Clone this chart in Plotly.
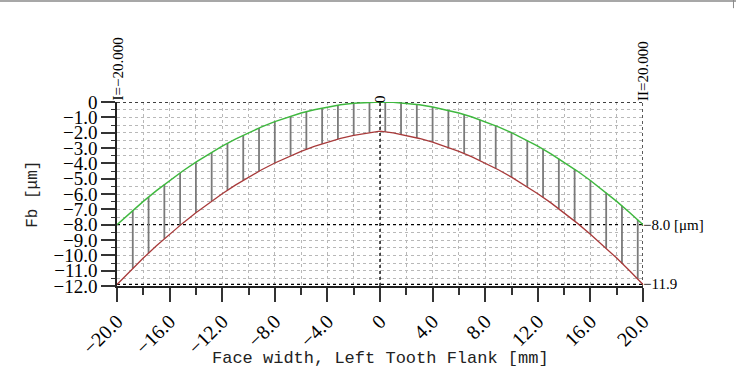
import plotly.graph_objects as go

# ---- data ----
x_mm = list(range(-20, 21))
green_um = [-8.00, -7.22, -6.48, -5.78, -5.12, -4.50, -3.92, -3.38, -2.88, -2.42,
            -2.00, -1.62, -1.28, -0.98, -0.72, -0.50, -0.32, -0.18, -0.08, -0.02,
            0.00,
            -0.02, -0.08, -0.18, -0.32, -0.50, -0.72, -0.98, -1.28, -1.62, -2.00,
            -2.42, -2.88, -3.38, -3.92, -4.50, -5.12, -5.78, -6.48, -7.22, -8.00]
red_um = [-11.90, -11.02, -10.18, -9.38, -8.62, -7.90, -7.22, -6.58, -5.98, -5.42,
          -4.90, -4.42, -3.98, -3.58, -3.22, -2.90, -2.62, -2.38, -2.18, -2.02,
          -1.90,
          -2.02, -2.18, -2.38, -2.62, -2.90, -3.22, -3.58, -3.98, -4.42, -4.90,
          -5.42, -5.98, -6.58, -7.22, -7.90, -8.62, -9.38, -10.18, -11.02, -11.90]

hatch_x = [-18.8, -17.6, -16.4, -15.2, -14.0, -12.8, -11.6, -10.4, -9.2, -8.0, -6.8,
           -5.6, -4.4, -3.2, -2.0, -0.8, 0.4, 1.6, 2.8, 4.0, 5.2, 6.4, 7.6, 8.8,
           10.0, 11.2, 12.4, 13.6, 14.8, 16.0, 17.2, 18.4, 19.6]
hatch_top = [-7.07, -6.20, -5.38, -4.62, -3.92, -3.28, -2.69, -2.16, -1.69, -1.28, -0.92,
             -0.63, -0.39, -0.20, -0.08, -0.01, 0.00, -0.05, -0.16, -0.32, -0.54, -0.82,
             -1.16, -1.55, -2.00, -2.51, -3.08, -3.70, -4.38, -5.12, -5.92, -6.77, -7.68]
hatch_bot = [-10.85, -9.86, -8.92, -8.04, -7.22, -6.46, -5.75, -5.10, -4.51, -3.98, -3.50,
             -3.09, -2.73, -2.42, -2.18, -1.99, -1.94, -2.11, -2.34, -2.62, -2.96, -3.36,
             -3.82, -4.33, -4.90, -5.53, -6.22, -6.96, -7.76, -8.62, -9.54, -10.51, -11.54]

x_tickvals = [-20, -16, -12, -8, -4, 0, 4, 8, 12, 16, 20]
x_ticktext = ["\u221220.0", "\u221216.0", "\u221212.0", "\u22128.0", "\u22124.0", "0",
              "4.0", "8.0", "12.0", "16.0", "20.0"]
y_tickvals = [0, -1, -2, -3, -4, -5, -6, -7, -8, -9, -10, -11, -12]
y_ticktext = ["0"] + ["\u2212%d.0" % k for k in range(1, 13)]

MONO = "Liberation Mono"
SERIF = "Liberation Serif"

hx, hy = [], []
for xv, t, b in zip(hatch_x, hatch_top, hatch_bot):
    hx += [xv, xv, None]
    hy += [t, b, None]

fig = go.Figure()
fig.add_trace(go.Scatter(x=hx, y=hy, mode="lines",
                         line=dict(color="#7a7a7a", width=1.8), hoverinfo="skip"))
fig.add_trace(go.Scatter(x=x_mm, y=red_um, mode="lines",
                         line=dict(color="#a83a3a", width=1.3)))
fig.add_trace(go.Scatter(x=x_mm, y=green_um, mode="lines",
                         line=dict(color="#3fb83f", width=1.5)))

grid = dict(showgrid=True, gridcolor="#b8b8b8", gridwidth=1, griddash="dot")

fig.update_layout(
    width=736, height=374,
    margin=dict(l=117, r=93, t=102, b=88),
    paper_bgcolor="white", plot_bgcolor="white",
    showlegend=False,
    xaxis=dict(range=[-20, 20], tickvals=x_tickvals, ticktext=x_ticktext,
               tickangle=-45, ticks="outside", ticklen=14, tickwidth=1.5,
               tickcolor="#333", showline=True, linecolor="#222", linewidth=1.5,
               zeroline=False, tickfont=dict(family=SERIF, size=20, color="black"),
               minor=dict(tick0=0, dtick=2, ticks="outside", ticklen=7, tickwidth=1.5,
                          tickcolor="#333", **grid),
               **grid),
    yaxis=dict(range=[-12, 0], tickvals=y_tickvals, ticktext=y_ticktext,
               ticks="outside", ticklen=14, tickwidth=1.5, tickcolor="#333",
               showline=True, linecolor="#222", linewidth=1.5, zeroline=False,
               tickfont=dict(family=SERIF, size=19, color="black"),
               minor=dict(tick0=0, dtick=0.5, ticks="outside", ticklen=4, tickwidth=1.2,
                          tickcolor="#333", **grid),
               **grid),
)

dot = dict(color="black", width=1.3, dash="dot")
fig.add_shape(type="line", xref="x", yref="y", x0=-20, x1=20, y0=0, y1=0, line=dot, layer="between")
fig.add_shape(type="line", xref="x", yref="y", x0=20, x1=20, y0=-12, y1=0, line=dot, layer="between")
fig.add_shape(type="line", xref="x", yref="y", x0=0, x1=0, y0=-12, y1=0, line=dot, layer="between")
fig.add_shape(type="line", xref="x", yref="y", x0=-20, x1=20, y0=-8, y1=-8, line=dot, layer="between")
fig.add_shape(type="line", xref="x", yref="y", x0=-20, x1=20, y0=-11.9, y1=-11.9, line=dot, layer="between")
# window border fragments
fig.add_shape(type="line", xref="paper", yref="paper", x0=-0.2233, x1=1.1776, y0=1.549, y1=1.549,
              line=dict(color="#8a8a8a", width=1.5), layer="above")
fig.add_shape(type="line", xref="paper", yref="paper", x0=1.172, x1=1.172, y0=1.51, y1=1.555,
              line=dict(color="#8a8a8a", width=1), layer="above")

ann_font = dict(family=SERIF, size=15, color="black")
fig.add_annotation(x=-20, y=1, xref="x", yref="paper", text="I=\u221220.000", textangle=-90,
                   showarrow=False, xanchor="center", yanchor="bottom", font=ann_font, yshift=-1)
fig.add_annotation(x=20, y=1, xref="x", yref="paper", text="II=20.000", textangle=-90,
                   showarrow=False, xanchor="center", yanchor="bottom", font=ann_font, yshift=-1)
fig.add_annotation(x=0, y=1, xref="x", yref="paper", text="0", textangle=-90,
                   showarrow=False, xanchor="center", yanchor="bottom", font=ann_font, yshift=-3)
fig.add_annotation(x=20, y=-8, xref="x", yref="y", text="\u22128.0 [\u03bcm]",
                   showarrow=False, xanchor="left", yanchor="middle", font=ann_font, xshift=-2)
fig.add_annotation(x=20, y=-11.9, xref="x", yref="y", text="\u221211.9",
                   showarrow=False, xanchor="left", yanchor="middle", font=ann_font, xshift=-2)
fig.add_annotation(x=-0.160, y=0.5, xref="paper", yref="paper", text="Fb [\u03bcm]", textangle=-90,
                   showarrow=False, xanchor="center", yanchor="middle",
                   font=dict(family=MONO, size=16, color="#222"))
fig.add_annotation(x=0.5, y=-0.395, xref="paper", yref="paper",
                   text="Face width, Left Tooth Flank [mm]",
                   showarrow=False, xanchor="center", yanchor="middle",
                   font=dict(family=MONO, size=17, color="#222"))
# clipped glyphs at the bottom edge
fig.add_annotation(x=-20, y=-0.5, xref="x", yref="paper", text="0", textangle=-90,
                   showarrow=False, xanchor="center", yanchor="middle", font=ann_font, xshift=-4)
fig.add_annotation(x=20, y=-0.5, xref="x", yref="paper", text="0", textangle=-90,
                   showarrow=False, xanchor="center", yanchor="middle", font=ann_font, xshift=-3)

fig.write_html("out.html")
